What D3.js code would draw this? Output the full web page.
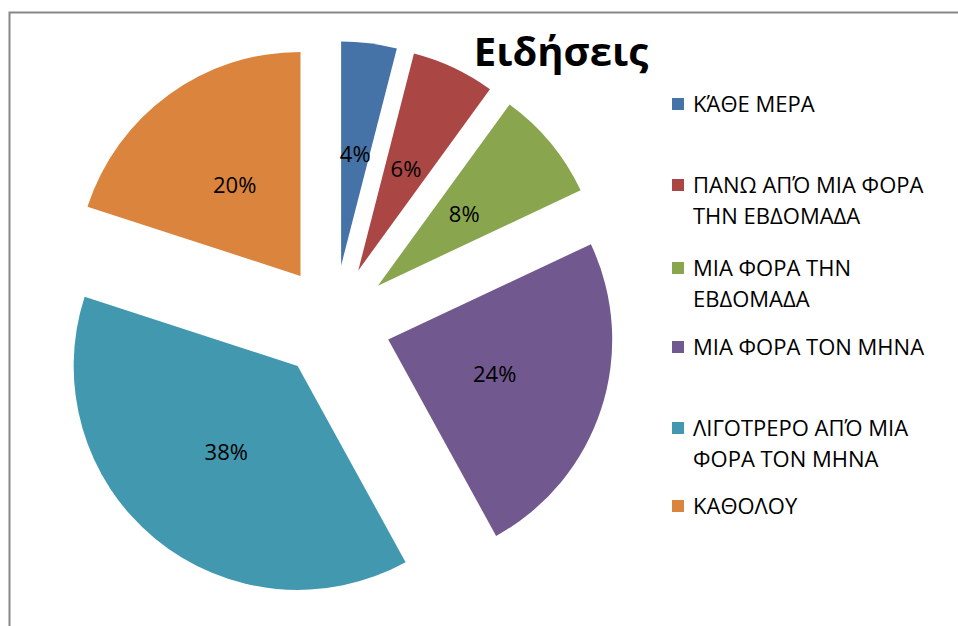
<!DOCTYPE html>
<html>
<head>
<meta charset="utf-8">
<script src="https://cdn.jsdelivr.net/npm/d3@7"></script>
<style>
body {margin:0; background:#fff;}
text {font-family:"Open Sans","Noto Sans",sans-serif;}
</style>
</head>
<body>
<svg></svg>
<script>
// chart data
var categories=["ΚΆΘΕ ΜΕΡΑ","ΠΑΝΩ ΑΠΌ ΜΙΑ ΦΟΡΑ ΤΗΝ ΕΒΔΟΜΑΔΑ","ΜΙΑ ΦΟΡΑ ΤΗΝ ΕΒΔΟΜΑΔΑ","ΜΙΑ ΦΟΡΑ ΤΟΝ ΜΗΝΑ","ΛΙΓΟΤΡΕΡΟ ΑΠΌ ΜΙΑ ΦΟΡΑ ΤΟΝ ΜΗΝΑ","ΚΑΘΟΛΟΥ"];
var legendLines=[["ΚΆΘΕ ΜΕΡΑ"],["ΠΑΝΩ ΑΠΌ ΜΙΑ ΦΟΡΑ","ΤΗΝ ΕΒΔΟΜΑΔΑ"],["ΜΙΑ ΦΟΡΑ ΤΗΝ","ΕΒΔΟΜΑΔΑ"],["ΜΙΑ ΦΟΡΑ ΤΟΝ ΜΗΝΑ"],["ΛΙΓΟΤΡΕΡΟ ΑΠΌ ΜΙΑ","ΦΟΡΑ ΤΟΝ ΜΗΝΑ"],["ΚΑΘΟΛΟΥ"]];
var values=[4,6,8,24,38,20];
var colors=["#4572A7","#AA4643","#89A54E","#71588F","#4198AF","#DB843D"];
var title="Ειδήσεις";

var width=958, height=626;
var pieCenterX=334, pieCenterY=322, pieRadius=224, explode=57;
var legendX=672, legendY=[104,185,268,347,428,506], lineGap=31;

var svg=d3.select("svg").attr("width",width).attr("height",height);

// chart area border (runs off the right/bottom edge)
svg.append("rect")
	.attr("x",9.5).attr("y",12.5)
	.attr("width",1200).attr("height",1200)
	.attr("fill","none")
	.attr("stroke","#878787")
	.attr("stroke-width",2);

var pie=d3.pie().sort(null).value(function(d) {return d;});
var arc=d3.arc().innerRadius(0).outerRadius(pieRadius);
var slices=pie(values);

function offset(d) {
	var mid=(d.startAngle+d.endAngle)/2;
	return [pieCenterX+Math.sin(mid)*explode, pieCenterY-Math.cos(mid)*explode];
}

var sliceG=svg.selectAll(".slice").data(slices).
	enter().
	append("g").
	classed("slice",true).
	attr("transform",function(d) {
		var o=offset(d);
		return "translate("+o[0]+","+o[1]+")";
	});

sliceG.append("path")
	.attr("d",arc)
	.attr("fill",function(d,i) {return colors[i];});

sliceG.append("text")
	.attr("x",function(d) {return arc.centroid(d)[0];})
	.attr("y",function(d) {return arc.centroid(d)[1];})
	.attr("text-anchor","middle")
	.attr("dy","0.36em")
	.style("font-size","22px")
	.attr("fill","#000")
	.text(function(d) {return d.data+"%";});

svg.append("text")
	.attr("x",561).attr("y",66)
	.attr("text-anchor","middle")
	.style("font-size","40px")
	.style("font-weight","bold")
	.text(title);

var legend=svg.selectAll(".legend").data(categories).
	enter().
	append("g").
	classed("legend",true).
	attr("transform",function(d,i) {return "translate("+legendX+","+legendY[i]+")";});

legend.append("rect")
	.attr("x",0).attr("y",-6)
	.attr("width",12).attr("height",12)
	.attr("fill",function(d,i) {return colors[i];});

legend.each(function(d,i) {
	var t=d3.select(this).append("text")
		.attr("x",21).attr("y",0)
		.style("font-size","22px")
		.attr("fill","#000");
	legendLines[i].forEach(function(line,j) {
		t.append("tspan").attr("x",21).attr("y",j*lineGap).attr("dy","0.36em").text(line);
	});
});
</script>
</body>
</html>
